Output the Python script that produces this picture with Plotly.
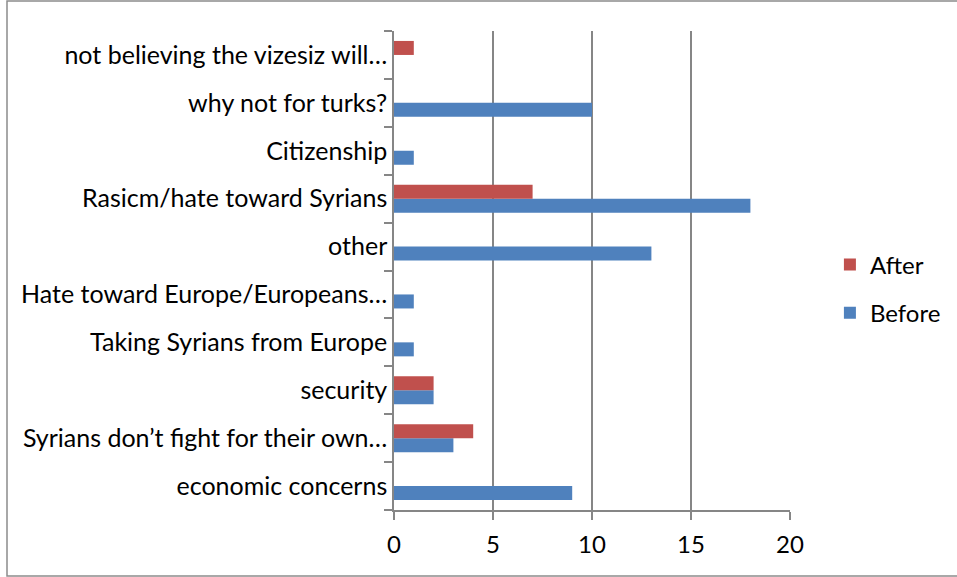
import plotly.graph_objects as go

categories = [
    "economic concerns",
    "Syrians don\u2019t fight for their own\u2026",
    "security",
    "Taking Syrians from Europe",
    "Hate toward Europe/Europeans\u2026",
    "other",
    "Rasicm/hate toward Syrians",
    "Citizenship",
    "why not for turks?",
    "not believing the vizesiz will\u2026",
]
before = [9, 3, 2, 1, 1, 13, 18, 1, 10, 0]
after = [0, 4, 2, 0, 0, 0, 7, 0, 0, 1]

x_ticks = [0, 5, 10, 15, 20]

BLUE = "#4F81BD"
RED = "#C0504D"
GRID = "#868686"
FONT = "Lato"

fig = go.Figure()
fig.add_trace(go.Bar(
    y=categories, x=before, name="Before", orientation="h",
    marker=dict(color=BLUE, line=dict(width=0)),
    legendgroup="b", legendrank=2,
))
fig.add_trace(go.Bar(
    y=categories, x=after, name="After", orientation="h",
    marker=dict(color=RED, line=dict(width=0)),
    legendgroup="a", legendrank=1,
))

fig.update_layout(
    width=957, height=577,
    margin=dict(l=394, r=167, t=31, b=67, autoexpand=False),
    paper_bgcolor="white", plot_bgcolor="white",
    barmode="group", bargap=0.415, bargroupgap=0,
    font=dict(family=FONT, size=24, color="black"),
    showlegend=True,
    legend=dict(
        xref="container", yref="container",
        x=0.8672, y=0.4991, xanchor="left", yanchor="middle",
        traceorder="grouped", tracegroupgap=14,
        font=dict(size=24), itemwidth=30,
    ),
    xaxis=dict(
        range=[0, 20], tickvals=x_ticks, ticktext=[str(v) for v in x_ticks],
        showgrid=True, gridcolor=GRID, gridwidth=1.5,
        showline=True, linecolor=GRID, linewidth=1.5,
        ticks="outside", ticklen=8, tickcolor=GRID, tickwidth=1.5,
        tickfont=dict(size=24), ticklabelstandoff=4,
        zeroline=False, fixedrange=True,
    ),
    yaxis=dict(
        categoryorder="array", categoryarray=categories,
        showline=True, linecolor=GRID, linewidth=1.5,
        ticks="outside", ticklen=8, tickcolor=GRID, tickwidth=1.5,
        tickfont=dict(size=25),
        tickson="boundaries", showgrid=False, fixedrange=True,
    ),
    shapes=[dict(
        type="rect", xref="paper", yref="paper",
        x0=(7 - 394) / 396, x1=(975 - 394) / 396,
        y0=(510 - 576) / 479, y1=(510 - 1) / 479,
        line=dict(color="#8C8C8C", width=1.5), layer="below",
    )],
)

fig.write_html("out.html")
